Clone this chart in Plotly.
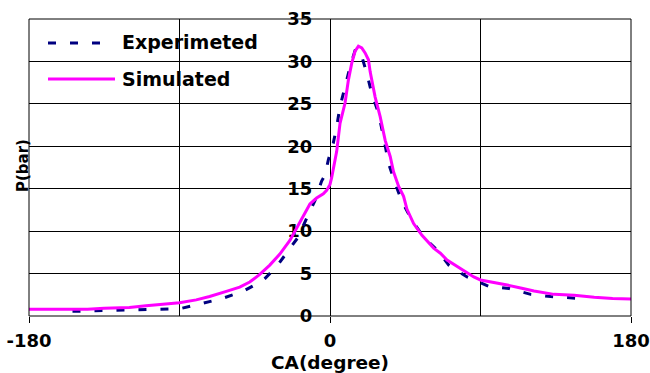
import plotly.graph_objects as go

# Simulated pressure trace
sim_ca = [-180, -160, -145, -135, -120, -110, -100, -90, -80, -72, -62, -54, -48, -42, -36, -30,
          -24, -20, -16, -12, -8, -4, -2, 0, 1, 2, 4, 6, 9, 11, 13, 15, 17, 19, 21, 23, 24, 27,
          30, 33, 36, 38, 41, 44, 46, 50, 55, 62, 66, 70, 78, 86, 90, 96, 106, 114, 122, 134,
          146, 158, 169, 180]
sim_p = [0.8, 0.8, 0.8, 0.9, 1.0, 1.2, 1.35, 1.55, 1.9, 2.3, 2.9, 3.4, 4.0, 4.9, 6.0, 7.3,
         8.9, 10.3, 11.8, 13.2, 13.9, 14.4, 14.8, 15.5, 16.3, 17.5, 19.4, 22.7, 25.1, 27.8, 29.8,
         31.2, 31.8, 31.6, 31.0, 30.2, 28.8, 25.8, 23.5, 20.7, 18.8, 17.0, 15.3, 14.1, 12.6,
         10.9, 9.5, 8.0, 7.4, 6.6, 5.6, 4.6, 4.25, 4.05, 3.65, 3.3, 2.95, 2.55, 2.45, 2.2,
         2.05, 2.0]

# Experimental pressure trace
exp_ca = [-154, -127, -102, -90, -76, -64, -52, -40, -32, -24, -19, -14, -9, -5, -3, -1, 2, 4,
          6, 9, 12, 15, 17, 19, 22, 25, 29, 32, 35, 39, 43, 49, 56, 64, 71, 82, 95, 107, 120,
          132, 147]
exp_p = [0.55, 0.65, 0.75, 0.85, 1.5, 2.1, 2.9, 4.2, 5.8, 7.9, 9.3, 11.5, 13.6, 15.9, 16.6,
         18.4, 20.4, 22.3, 24.7, 27.0, 29.4, 31.3, 31.4, 30.6, 28.6, 26.2, 23.9, 21.1, 18.0,
         15.6, 13.5, 11.3, 9.3, 7.8, 6.0, 4.6, 3.5, 3.25, 2.55, 2.3, 2.1]

x_ticks = [-180, 0, 180]
y_ticks = [0, 5, 10, 15, 20, 25, 30, 35]
series_names = ["Experimeted", "Simulated"]

NAVY = "#000080"
MAGENTA = "#FF00FF"
FONT = "DejaVu Sans"

fig = go.Figure()
fig.add_trace(go.Scatter(x=exp_ca, y=exp_p, mode="lines", name=series_names[0],
                         line=dict(color=NAVY, width=3, dash="8px,14px"), showlegend=False))
fig.add_trace(go.Scatter(x=sim_ca, y=sim_p, mode="lines", name=series_names[1],
                         line=dict(color=MAGENTA, width=3), showlegend=False))

W, H = 650, 373
L, R, T, B = 29, 19, 19, 57
pw, ph = W - L - R, H - T - B


def px(x):
    return (x - L) / pw


def py(y):
    return (H - B - y) / ph


fig.update_layout(
    width=W, height=H,
    margin=dict(l=L, r=R, t=T, b=B, autoexpand=False),
    paper_bgcolor="white", plot_bgcolor="white",
    showlegend=False,
    xaxis=dict(range=[-180, 180], tickvals=x_ticks, ticktext=[str(v) for v in x_ticks],
               ticks="outside", ticklen=6, tickcolor="black", tickwidth=1,
               ticklabelstandoff=2,
               showgrid=True, gridcolor="black", gridwidth=1, automargin=False,
               minor=dict(dtick=90, tick0=0, showgrid=True, gridcolor="black", gridwidth=1, ticks=""),
               zeroline=False, showline=False, layer="below traces",
               tickfont=dict(family=FONT, size=18, color="black", weight="bold")),
    yaxis=dict(range=[0, 35], tickvals=y_ticks, ticktext=[str(v) for v in y_ticks],
               anchor="free", position=0.5, side="left", automargin=False,
               ticks="", ticklabelstandoff=14,
               showgrid=True, gridcolor="black", gridwidth=1,
               zeroline=False, showline=True, linecolor="black", linewidth=1,
               layer="below traces",
               tickfont=dict(family=FONT, size=18, color="black", weight="bold")),
)

shapes = [
    # legend background hiding gridlines
    dict(type="rect", xref="paper", yref="paper", x0=0, x1=px(272), y0=py(97), y1=1,
         fillcolor="white", line=dict(width=0), layer="between"),
    # plot border
    dict(type="rect", xref="paper", yref="paper", x0=0, x1=1, y0=0, y1=1,
         line=dict(color="black", width=1), layer="above"),
    # legend samples
    dict(type="line", xref="paper", yref="paper", x0=px(48), x1=px(113), y0=py(43), y1=py(43),
         line=dict(color=NAVY, width=3, dash="8px,14px")),
    dict(type="line", xref="paper", yref="paper", x0=px(48), x1=px(115), y0=py(79), y1=py(79),
         line=dict(color=MAGENTA, width=3)),
]
fig.update_layout(shapes=shapes)

ann_font = dict(family=FONT, size=19, color="black", weight="bold")
fig.add_annotation(x=px(120), y=py(42), xref="paper", yref="paper", text=series_names[0],
                   showarrow=False, xanchor="left", yanchor="middle", font=ann_font)
fig.add_annotation(x=px(120), y=py(78.5), xref="paper", yref="paper", text=series_names[1],
                   showarrow=False, xanchor="left", yanchor="middle", font=ann_font)
fig.add_annotation(x=px(330), y=py(362.5), xref="paper", yref="paper", text="CA(degree)",
                   showarrow=False, xanchor="center", yanchor="middle",
                   font=dict(family=FONT, size=18.5, color="black", weight="bold"))
fig.add_annotation(x=px(23), y=py(166), xref="paper", yref="paper", text="P(bar)",
                   showarrow=False, xanchor="center", yanchor="middle", textangle=-90,
                   font=dict(family=FONT, size=15, color="black", weight="bold"))

fig.write_html("out.html")
